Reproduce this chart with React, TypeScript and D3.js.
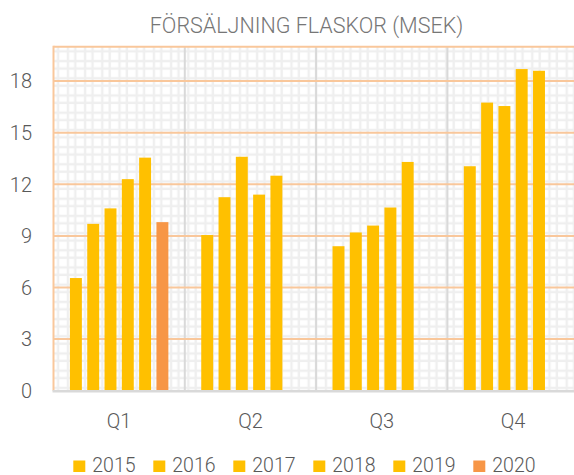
import React from "react";
import * as d3 from "d3";

const quarters = ["Q1", "Q2", "Q3", "Q4"];
const years = ["2015", "2016", "2017", "2018", "2019", "2020"];
const v2015 = [6.55, 9.05, 8.4, 13.05];
const v2016 = [9.7, 11.25, 9.2, 16.75];
const v2017 = [10.6, 13.6, 9.6, 16.55];
const v2018 = [12.3, 11.4, 10.65, 18.7];
const v2019 = [13.55, 12.5, 13.3, 18.6];
const v2020: (number | null)[] = [9.8, null, null, null];
const series = [v2015, v2016, v2017, v2018, v2019, v2020];
const colors = ["#FFC000", "#FFC000", "#FFC000", "#FFC000", "#FFC000", "#F79646"];
const yTicks = [0, 3, 6, 9, 12, 15, 18];
const title = "FÖRSÄLJNING FLASKOR (MSEK)";

const W = 574;
const H = 475;
const left = 53.5;
const right = 578.7;
const top = 46.7;
const bottom = 390.7;

export default function App() {
  const x = d3.scaleBand<string>().domain(quarters).range([left, right]).paddingInner(0).paddingOuter(0);
  const xi = d3.scaleBand<string>().domain(years).range([0, x.bandwidth()]).paddingInner(0.31).paddingOuter(0.95);
  const y = d3.scaleLinear().domain([0, 20]).range([bottom, top]);
  const font = "Roboto, 'Noto Sans', sans-serif";
  const legendX = d3.scalePoint<string>().domain(years).range([73.3, 473.3]);

  return (
    <svg width={W} height={H} style={{ position: "absolute", left: 0, top: 0 }} fontFamily={font} fontWeight={300}>
      <defs>
        <pattern id="mg" x={left} y={top} width={17.2} height={17.2} patternUnits="userSpaceOnUse">
          <rect x={3.4} y={0} width={2.4} height={17.2} fill="#efefef" />
          <rect x={13.2} y={0} width={2.4} height={17.2} fill="#efefef" />
          <rect x={0} y={3.4} width={17.2} height={2.4} fill="#efefef" />
          <rect x={0} y={13.2} width={17.2} height={2.4} fill="#efefef" />
        </pattern>
      </defs>
      <rect width={W} height={H} fill="#fff" />
      <text x={306.5} y={33} textAnchor="middle" fontSize={21.5} fill="#767676">{title}</text>
      <rect x={left} y={top} width={right - left} height={bottom - top} fill="url(#mg)" />
      {quarters.slice(1).map((q) => (
        <line key={q} x1={x(q)!} x2={x(q)!} y1={top} y2={bottom} stroke="#d9d9d9" strokeWidth={2} />
      ))}
      {yTicks.filter((t) => t > 0).concat([20]).map((t) => (
        <line key={t} x1={left} x2={right} y1={y(t)} y2={y(t)} stroke="#F9C79B" strokeWidth={2} />
      ))}
      <line x1={left} x2={left} y1={top - 1} y2={bottom} stroke="#F9C79B" strokeWidth={2} />
      {series.map((s, si) =>
        s.map((v, qi) =>
          v == null ? null : (
            <rect
              key={`${si}-${qi}`}
              x={x(quarters[qi])! + xi(years[si])!}
              y={y(v)}
              width={xi.bandwidth()}
              height={bottom - y(v)}
              fill={colors[si]}
            />
          )
        )
      )}
      <line x1={left - 1} x2={right} y1={bottom + 0.5} y2={bottom + 0.5} stroke="#d9d9d9" strokeWidth={2.5} />
      {yTicks.map((t) => (
        <text key={t} x={32} y={y(t)} dy="0.36em" textAnchor="end" fontSize={20} fill="#595959">{t}</text>
      ))}
      {quarters.map((q) => (
        <text key={q} x={x(q)! + x.bandwidth() / 2} y={427.5} textAnchor="middle" fontSize={20} fill="#595959">{q}</text>
      ))}
      {years.map((yr, i) => (
        <g key={yr} transform={`translate(${legendX(yr)},0)`}>
          <rect x={0} y={460.5} width={12} height={11.5} fill={colors[i]} />
          <text x={19} y={471.5} fontSize={19.5} fill="#595959">{yr}</text>
        </g>
      ))}
    </svg>
  );
}
